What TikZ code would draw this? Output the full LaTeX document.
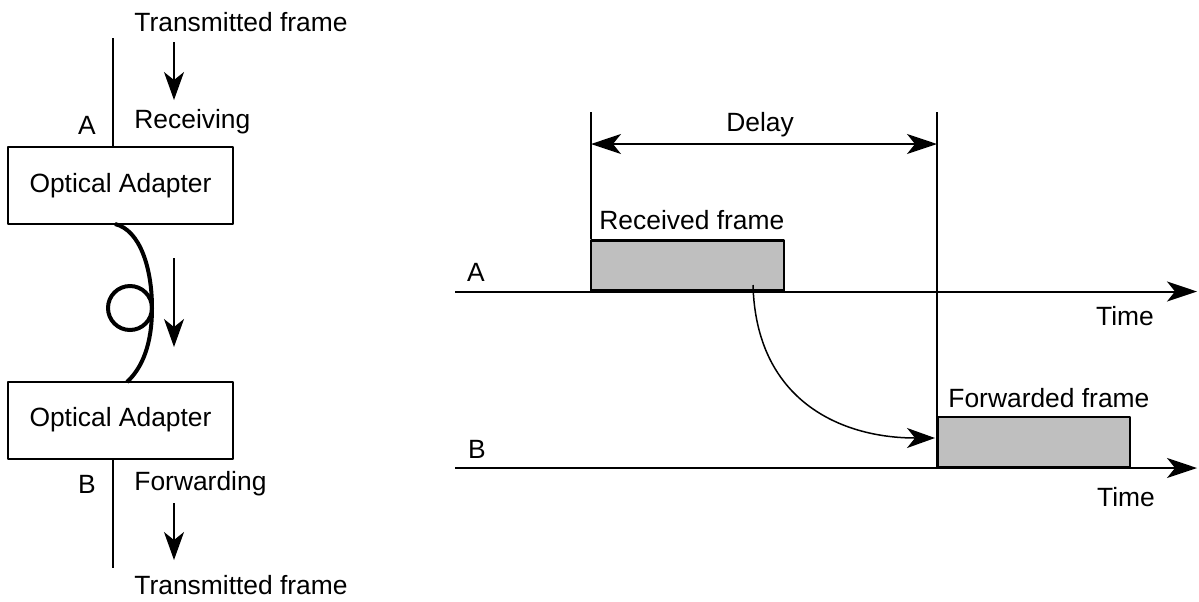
\documentclass[tikz,border=0pt]{standalone}
\usepackage{fontspec}
\setmainfont{Liberation Sans}
\usetikzlibrary{arrows.meta}

\begin{document}
\begin{tikzpicture}[x=0.5pt,y=-0.5pt,join=round]
    \tikzstyle{lbl} = [inner sep=0pt,font=\fontsize{13.2}{15}\selectfont]
    \tikzstyle{adapter} = [draw,line width=1pt,minimum width=112.5pt,
                           minimum height=38.5pt,inner sep=0pt,
                           font=\fontsize{13.2}{15}\selectfont]
    \tikzstyle{frm} = [draw,line width=1.2pt,fill=black!25,inner sep=0pt,
                       anchor=south west,minimum height=25pt]
    \tikzstyle{thin} = [line width=0.75pt]
    \tikzstyle{axis} = [line width=1pt,-{Stealth[length=15pt,width=10pt,inset=4pt]}]
    \tikzstyle{flow} = [line width=0.75pt,-{Stealth[length=14pt,width=10pt,inset=4pt]}]
    \useasboundingbox (0,0) rectangle (1199,601);
    % Adapter chain
    \node[adapter] (adapA) at (120.5,185.5) {Optical Adapter};
    \node[adapter] (adapB) at (120.5,420) {Optical Adapter};
    \coordinate (portA) at (113,38);
    \coordinate (portB) at (113,568);
    \draw[thin] (portA) -- (portA |- adapA.north);
    \draw[thin] (portB |- adapB.south) -- (portB);
    \coordinate (fibA) at (115,224);
    \coordinate (fibB) at (127,382);
    \draw[line width=2pt] (fibA) .. controls (140,230) and (152,268) .. (152,308)
                          .. controls (152,345) and (142,368) .. (fibB);
    \draw[line width=2pt] (130,308) circle (22);
    \coordinate (inTop) at (174,42);
    \coordinate (inTip) at (174,100);
    \coordinate (midTop) at (174,258);
    \coordinate (midTip) at (174,347);
    \coordinate (outTop) at (174,503);
    \coordinate (outTip) at (174,560);
    \draw[flow] (inTop) -- (inTip);
    \draw[flow] (midTop) -- (midTip);
    \draw[flow] (outTop) -- (outTip);
    \node[lbl,anchor=west] (txIn) at (134,22) {Transmitted frame};
    \node[lbl,anchor=west] (rcv) at (134,122) {Receiving};
    \node[lbl] (lblA) at (87,125) {A};
    \node[lbl] (lblB) at (87,484) {B};
    \node[lbl,anchor=west] (fwd) at (134,484) {Forwarding};
    \node[lbl,anchor=west] (txOut) at (134,585) {Transmitted frame};
    % Timing chart
    \coordinate (axA0) at (455,291.5);
    \coordinate (axA1) at (1197,291.5);
    \coordinate (axB0) at (455,468);
    \coordinate (axB1) at (1197,468);
    \node[frm,minimum width=96.5pt] (recvA) at (590,291.5) {};
    \node[frm,minimum width=96pt] (fwdB) at (937,468) {};
    \draw[axis] (axA0) -- (axA1);
    \draw[axis] (axB0) -- (axB1);
    \coordinate (dL) at (591,112);
    \coordinate (dR) at (937,112);
    \draw[thin] (dL) -- (dL |- recvA.north);
    \draw[thin] (dR) -- (dR |- axB0);
    \draw[thin,{Stealth[length=15pt,width=10pt,inset=4pt]}-{Stealth[length=15pt,width=10pt,inset=4pt]}]
        (591,144) -- (937,144);
    \coordinate (hopS) at (753,285);
    \coordinate (hopE) at (935,438);
    \draw[flow] (hopS) .. controls (756,400) and (840,438) .. (hopE);
    \node[lbl] (delay) at (760,125) {Delay};
    \node[lbl,anchor=west] (rcvF) at (599,220) {Received frame};
    \node[lbl,anchor=west] (fwdF) at (948,398) {Forwarded frame};
    \node[lbl] (chA) at (476,272) {A};
    \node[lbl] (chB) at (477,449) {B};
    \node[lbl] (timeA) at (1125,316) {Time};
    \node[lbl] (timeB) at (1126,497) {Time};
\end{tikzpicture}
\end{document}
